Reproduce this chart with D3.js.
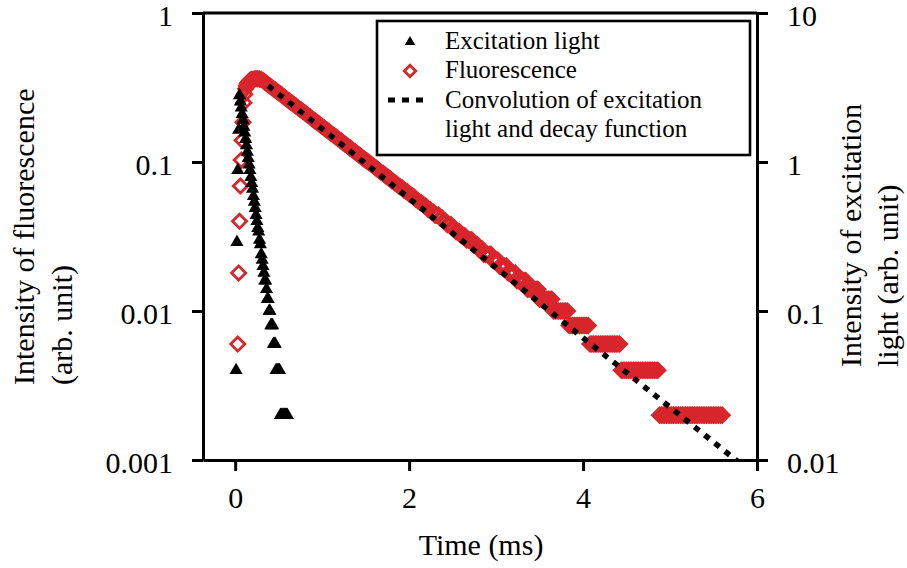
<!DOCTYPE html>
<html lang="en">
<head>
    <meta charset="UTF-8">
    <title>Fluorescence decay</title>
    <script src="https://d3js.org/d3.v7.min.js"></script>
    <style>
        body {
            margin: 0;
            background: #fff;
            font-family: "Liberation Serif", "Times New Roman", serif;
        }
        .axis path, .axis line {
            stroke: #000;
            stroke-width: 3;
        }
        .axis text {
            font-family: "Liberation Serif", "Times New Roman", serif;
            font-size: 30px;
            fill: #000;
        }
    </style>
</head>
<body>
    <div id="chart"></div>
    <script>
        // tick labels
        const xTicks = [0, 2, 4, 6];
        const leftTicks = [0.001, 0.01, 0.1, 1];
        const rightTicks = [0.01, 0.1, 1, 10];

        // excitation light (right axis), sampled every 0.01 ms from 0.01 ms
        const exciteStart = 0.01, exciteStep = 0.01;
        const exciteValues = [
            0.04, 0.29, 0.88, 1.64, 2.8, 2.54, 2.31, 2.09, 1.90, 1.72,
            1.57, 1.42, 1.29, 1.17, 1.06, 0.96, 0.88, 0.79, 0.72, 0.66,
            0.59, 0.54, 0.49, 0.44, 0.40, 0.36, 0.34, 0.30, 0.28, 0.24,
            0.22, 0.20, 0.18, 0.16, 0.16, 0.14, 0.12, 0.12, 0.10, 0.10,
            0.08, 0.08, 0.08, 0.06, 0.06, 0.06, 0.04, 0.04, 0.04, 0.04,
            0.04, 0.02, 0.02, 0.02, 0.02, 0.02, 0.02, 0.02, 0.02, 0.02
        ];

        // fluorescence (left axis): rise every 0.01 ms, decay every 0.02 ms
        const fluoRiseStart = 0.03, fluoRiseStep = 0.01;
        const fluoRiseValues = [
            0.006, 0.018, 0.040, 0.069, 0.103, 0.14, 0.185, 0.25, 0.285, 0.31,
            0.325, 0.335, 0.342, 0.348, 0.352, 0.355, 0.357
        ];
        const fluoDecayStart = 0.20, fluoDecayStep = 0.02;
        const fluoDecayValues = [
            0.358, 0.360, 0.362, 0.362, 0.361, 0.358, 0.352, 0.344, 0.337, 0.330,
            0.324, 0.317, 0.310, 0.304, 0.298, 0.292, 0.286, 0.280, 0.274, 0.268,
            0.263, 0.257, 0.252, 0.247, 0.242, 0.237, 0.232, 0.227, 0.223, 0.218,
            0.214, 0.209, 0.205, 0.201, 0.196, 0.192, 0.188, 0.185, 0.181, 0.177,
            0.173, 0.170, 0.166, 0.163, 0.160, 0.156, 0.153, 0.150, 0.147, 0.144,
            0.141, 0.138, 0.135, 0.132, 0.130, 0.127, 0.124, 0.122, 0.119, 0.117,
            0.114, 0.112, 0.110, 0.107, 0.105, 0.103, 0.101, 0.099, 0.097, 0.095,
            0.093, 0.091, 0.089, 0.087, 0.085, 0.084, 0.082, 0.080, 0.079, 0.077,
            0.075, 0.074, 0.072, 0.071, 0.069, 0.068, 0.067, 0.065, 0.064, 0.063,
            0.061, 0.060, 0.059, 0.058, 0.056, 0.055, 0.054, 0.053, 0.052, 0.051,
            0.050, 0.048, 0.048, 0.046, 0.046, 0.044, 0.044, 0.044, 0.042, 0.042,
            0.040, 0.040, 0.038, 0.038, 0.038, 0.036, 0.036, 0.034, 0.034, 0.034,
            0.032, 0.032, 0.032, 0.030, 0.030, 0.030, 0.030, 0.028, 0.028, 0.028,
            0.026, 0.026, 0.026, 0.024, 0.024, 0.024, 0.024, 0.024, 0.022, 0.022,
            0.022, 0.022, 0.020, 0.020, 0.020, 0.020, 0.020, 0.018, 0.018, 0.018,
            0.018, 0.018, 0.016, 0.016, 0.016, 0.016, 0.016, 0.016, 0.014, 0.014,
            0.014, 0.014, 0.014, 0.014, 0.014, 0.012, 0.012, 0.012, 0.012, 0.012,
            0.012, 0.012, 0.012, 0.010, 0.010, 0.010, 0.010, 0.010, 0.010, 0.010,
            0.010, 0.010, 0.008, 0.008, 0.008, 0.008, 0.008, 0.008, 0.008, 0.008,
            0.008, 0.008, 0.008, 0.008, 0.006, 0.006, 0.006, 0.006, 0.006, 0.006,
            0.006, 0.006, 0.006, 0.006, 0.006, 0.006, 0.006, 0.006, 0.006, 0.006,
            0.006, 0.006, 0.004, 0.004, 0.004, 0.004, 0.004, 0.004, 0.004, 0.004,
            0.004, 0.004, 0.004, 0.004, 0.004, 0.004, 0.004, 0.004, 0.004, 0.004,
            0.004, 0.004, 0.004, 0.004, 0.002, 0.002, 0.002, 0.002, 0.002, 0.002,
            0.002, 0.002, 0.002, 0.002, 0.002, 0.002, 0.002, 0.002, 0.002, 0.002,
            0.002, 0.002, 0.002, 0.002, 0.002, 0.002, 0.002, 0.002, 0.002, 0.002,
            0.002, 0.002, 0.002, 0.002, 0.002, 0.002, 0.002, 0.002, 0.002, 0.002,
            0.002
        ];

        // convolution of excitation light and decay function (left axis)
        const convTimes = [0.38, 1, 2, 3, 4, 5, 6];
        const convValues = [0.325, 0.167, 0.057, 0.0195, 0.0066, 0.00226, 0.00077];

        const width = 907, height = 568;
        const plot = { left: 203, right: 757, top: 13, bottom: 460 };
        const red = "#d8262c";
        const font = "'Liberation Serif', 'Times New Roman', serif";

        const svg = d3.select("#chart").append("svg")
            .attr("width", width)
            .attr("height", height);

        const x = d3.scaleLinear().domain([-0.37, 6]).range([plot.left, plot.right]);
        const yLeft = d3.scaleLog().domain([0.001, 1]).range([plot.bottom, plot.top]);
        const yRight = d3.scaleLog().domain([0.01, 10]).range([plot.bottom, plot.top]);

        svg.append("clipPath").attr("id", "clip")
            .append("rect")
            .attr("x", plot.left).attr("y", plot.top)
            .attr("width", plot.right - plot.left)
            .attr("height", plot.bottom - plot.top);

        const fluo = fluoRiseValues.map((v, i) => ({ t: fluoRiseStart + i * fluoRiseStep, v }))
            .concat(fluoDecayValues.map((v, i) => ({ t: fluoDecayStart + i * fluoDecayStep, v })));
        const excite = exciteValues.map((v, i) => ({ t: exciteStart + i * exciteStep, v }));
        const conv = convTimes.map((t, i) => ({ t, v: convValues[i] }));

        const diamond = d3.symbol().type(d3.symbolSquare).size(100);
        const triangle = d3.symbol().type(d3.symbolTriangle).size(75);

        // fluorescence
        svg.append("g")
            .selectAll("path")
            .data(fluo)
            .enter()
            .append("path")
            .attr("d", diamond)
            .attr("transform", d => `translate(${x(d.t)},${yLeft(d.v)}) rotate(45)`)
            .attr("fill", "none")
            .attr("stroke", red)
            .attr("stroke-width", 2.8);

        // excitation light
        svg.append("g")
            .selectAll("path")
            .data(excite)
            .enter()
            .append("path")
            .attr("d", triangle)
            .attr("transform", d => `translate(${x(d.t)},${yRight(d.v)})`)
            .attr("fill", "#000");

        // convolution
        const line = d3.line().x(d => x(d.t)).y(d => yLeft(d.v));
        svg.append("path")
            .datum(conv)
            .attr("clip-path", "url(#clip)")
            .attr("d", line)
            .attr("fill", "none")
            .attr("stroke", "#000")
            .attr("stroke-width", 5.5)
            .attr("stroke-dasharray", "6 7");

        // axes
        svg.append("g")
            .attr("class", "axis")
            .attr("transform", `translate(0,${plot.bottom})`)
            .call(d3.axisBottom(x).tickValues(xTicks).tickSize(11).tickSizeOuter(0).tickPadding(16).tickFormat(d3.format("d")));

        svg.append("g")
            .attr("class", "axis")
            .attr("transform", `translate(${plot.left},0)`)
            .call(d3.axisLeft(yLeft).tickValues(leftTicks).tickSize(11).tickSizeOuter(0).tickPadding(19).tickFormat(d3.format("~g")))
            .selectAll("text").attr("dy", "0.4em");

        svg.append("g")
            .attr("class", "axis")
            .attr("transform", `translate(${plot.right},0)`)
            .call(d3.axisRight(yRight).tickValues(rightTicks).tickSize(11).tickSizeOuter(0).tickPadding(19).tickFormat(d3.format("~g")))
            .selectAll("text").attr("dy", "0.4em");

        svg.append("line")
            .attr("x1", plot.left).attr("x2", plot.right)
            .attr("y1", plot.top).attr("y2", plot.top)
            .attr("stroke", "#000").attr("stroke-width", 3);

        // axis titles
        svg.append("text")
            .attr("x", 481).attr("y", 555)
            .attr("text-anchor", "middle")
            .style("font-family", font).style("font-size", "30px")
            .text("Time (ms)");

        const leftTitle = svg.append("text")
            .attr("transform", "translate(34,385) rotate(-90)")
            .style("font-family", font).style("font-size", "30px");
        leftTitle.append("tspan").attr("x", 0).attr("y", 0).text("Intensity of fluorescence");
        leftTitle.append("tspan").attr("x", 0).attr("y", 38).text("(arb. unit)");

        const rightTitle = svg.append("text")
            .attr("transform", "translate(861,367) rotate(-90)")
            .style("font-family", font).style("font-size", "30px");
        rightTitle.append("tspan").attr("x", 0).attr("y", 0).text("Intensity of excitation");
        rightTitle.append("tspan").attr("x", 0).attr("y", 37).text("light (arb. unit)");

        // legend
        const legend = svg.append("g");
        legend.append("rect")
            .attr("x", 377).attr("y", 21)
            .attr("width", 373).attr("height", 134)
            .attr("fill", "#fff")
            .attr("stroke", "#000")
            .attr("stroke-width", 2.6);

        legend.append("path")
            .attr("d", d3.symbol().type(d3.symbolTriangle).size(48))
            .attr("transform", "translate(410,42)")
            .attr("fill", "#000");
        legend.append("path")
            .attr("d", d3.symbol().type(d3.symbolSquare).size(66))
            .attr("transform", "translate(410,71) rotate(45)")
            .attr("fill", "none")
            .attr("stroke", red)
            .attr("stroke-width", 2.8);
        legend.append("line")
            .attr("x1", 388).attr("x2", 423)
            .attr("y1", 100).attr("y2", 100)
            .attr("stroke", "#000")
            .attr("stroke-width", 5)
            .attr("stroke-dasharray", "7 7");

        const legendLines = [
            ["Excitation light", 49],
            ["Fluorescence", 78],
            ["Convolution of excitation", 108],
            ["light and decay function", 137]
        ];
        legend.selectAll("text.leg")
            .data(legendLines)
            .enter()
            .append("text")
            .attr("class", "leg")
            .attr("x", 445)
            .attr("y", d => d[1])
            .style("font-family", font)
            .style("font-size", "25px")
            .text(d => d[0]);
    </script>
</body>
</html>
